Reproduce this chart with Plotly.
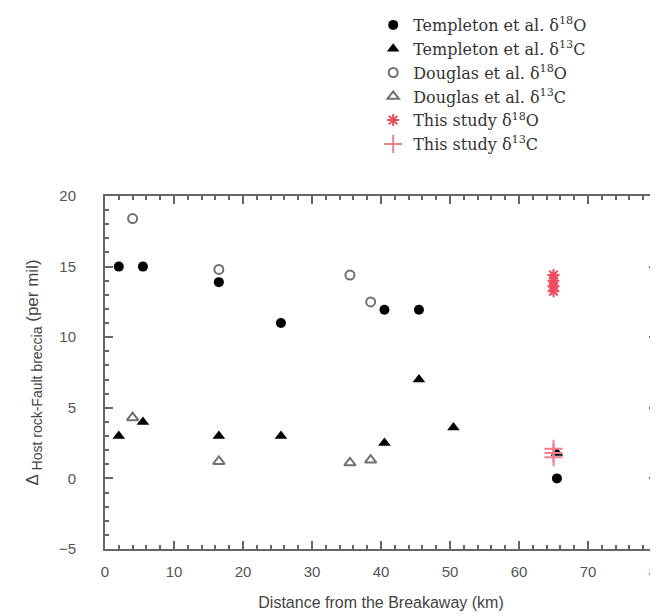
import plotly.graph_objects as go

# Templeton et al.
temp_o_x = [2, 5.5, 16.5, 25.5, 40.5, 45.5, 65.5]
temp_o_y = [15.0, 15.0, 13.9, 11.0, 11.95, 11.95, 0.0]
temp_c_x = [2, 5.5, 16.5, 25.5, 40.5, 45.5, 50.5, 65.5]
temp_c_y = [3.0, 4.0, 3.0, 3.0, 2.5, 7.0, 3.6, 1.8]
# Douglas et al.
doug_o_x = [4, 16.5, 35.5, 38.5]
doug_o_y = [18.4, 14.8, 14.4, 12.5]
doug_c_x = [4, 16.5, 35.5, 38.5]
doug_c_y = [4.3, 1.2, 1.1, 1.3]
# This study
this_o_x = [65, 65, 65, 65]
this_o_y = [14.4, 14.0, 13.6, 13.25]
this_c_x = [65, 65, 65]
this_c_y = [1.5, 1.8, 2.1]

fig = go.Figure()
fig.add_trace(go.Scatter(x=temp_o_x, y=temp_o_y, mode="markers", name="Templeton et al. δ<sup>18</sup>O",
                         marker=dict(symbol="circle", size=10, color="black")))
fig.add_trace(go.Scatter(x=temp_c_x, y=temp_c_y, mode="markers", name="Templeton et al. δ<sup>13</sup>C",
                         marker=dict(symbol="triangle-up", size=11, color="black")))
fig.add_trace(go.Scatter(x=doug_o_x, y=doug_o_y, mode="markers", name="Douglas et al. δ<sup>18</sup>O",
                         marker=dict(symbol="circle-open", size=9, color="#707070", line=dict(width=2, color="#707070"))))
fig.add_trace(go.Scatter(x=doug_c_x, y=doug_c_y, mode="markers", name="Douglas et al. δ<sup>13</sup>C",
                         marker=dict(symbol="triangle-up-open", size=10, color="#707070", line=dict(width=2, color="#707070"))))
fig.add_trace(go.Scatter(x=this_o_x, y=this_o_y, mode="markers", name="This study δ<sup>18</sup>O",
                         marker=dict(symbol="asterisk-open", size=10, color="#ee4a5e", line=dict(width=2, color="#ee4a5e"))))
fig.add_trace(go.Scatter(x=this_c_x, y=this_c_y, mode="markers", name="This study δ<sup>13</sup>C",
                         marker=dict(symbol="cross-thin-open", size=13, color="#f08090", line=dict(width=2, color="#f08090"))))

axis_common = dict(showline=True, linecolor="#666666", linewidth=2, mirror="allticks",
                   ticks="inside", tickcolor="#666666", tickwidth=2, ticklen=8,
                   showgrid=False, zeroline=False,
                   tickfont=dict(family="Liberation Sans, Arial, sans-serif", size=15, color="#555555"))

fig.update_xaxes(range=[0, 80], tick0=0, dtick=10, ticklabelstandoff=8,
                 minor=dict(dtick=2, ticks="inside", ticklen=4, tickcolor="#666666", tickwidth=2),
                 title=dict(text="Distance from the Breakaway (km)", standoff=18,
                            font=dict(family="Liberation Sans, Arial, sans-serif", size=16, color="#444444")),
                 **axis_common)
fig.update_yaxes(range=[-5, 20], tick0=-5, dtick=5, ticklabelstandoff=24,
                 minor=dict(dtick=1, ticks="inside", ticklen=4, tickcolor="#666666", tickwidth=2),
                 title=dict(text="Δ <sub><span style='font-size:14px'>Host rock-Fault breccia</span></sub> (per mil)",
                            standoff=16,
                            font=dict(family="Liberation Sans, Arial, sans-serif", size=17, color="#444444")),
                 **axis_common)

fig.update_layout(
    width=658, height=616,
    margin=dict(l=97, r=9, t=188, b=75, autoexpand=False),
    paper_bgcolor="white", plot_bgcolor="white",
    showlegend=True,
    legend=dict(x=0.555, y=1.003, xref="container", yref="container", xanchor="left", yanchor="top",
                font=dict(family="DejaVu Serif, Liberation Serif, serif", size=16, color="#333333"),
                bgcolor="rgba(0,0,0,0)", itemwidth=30, tracegroupgap=0),
)

fig.write_html("out.html")
